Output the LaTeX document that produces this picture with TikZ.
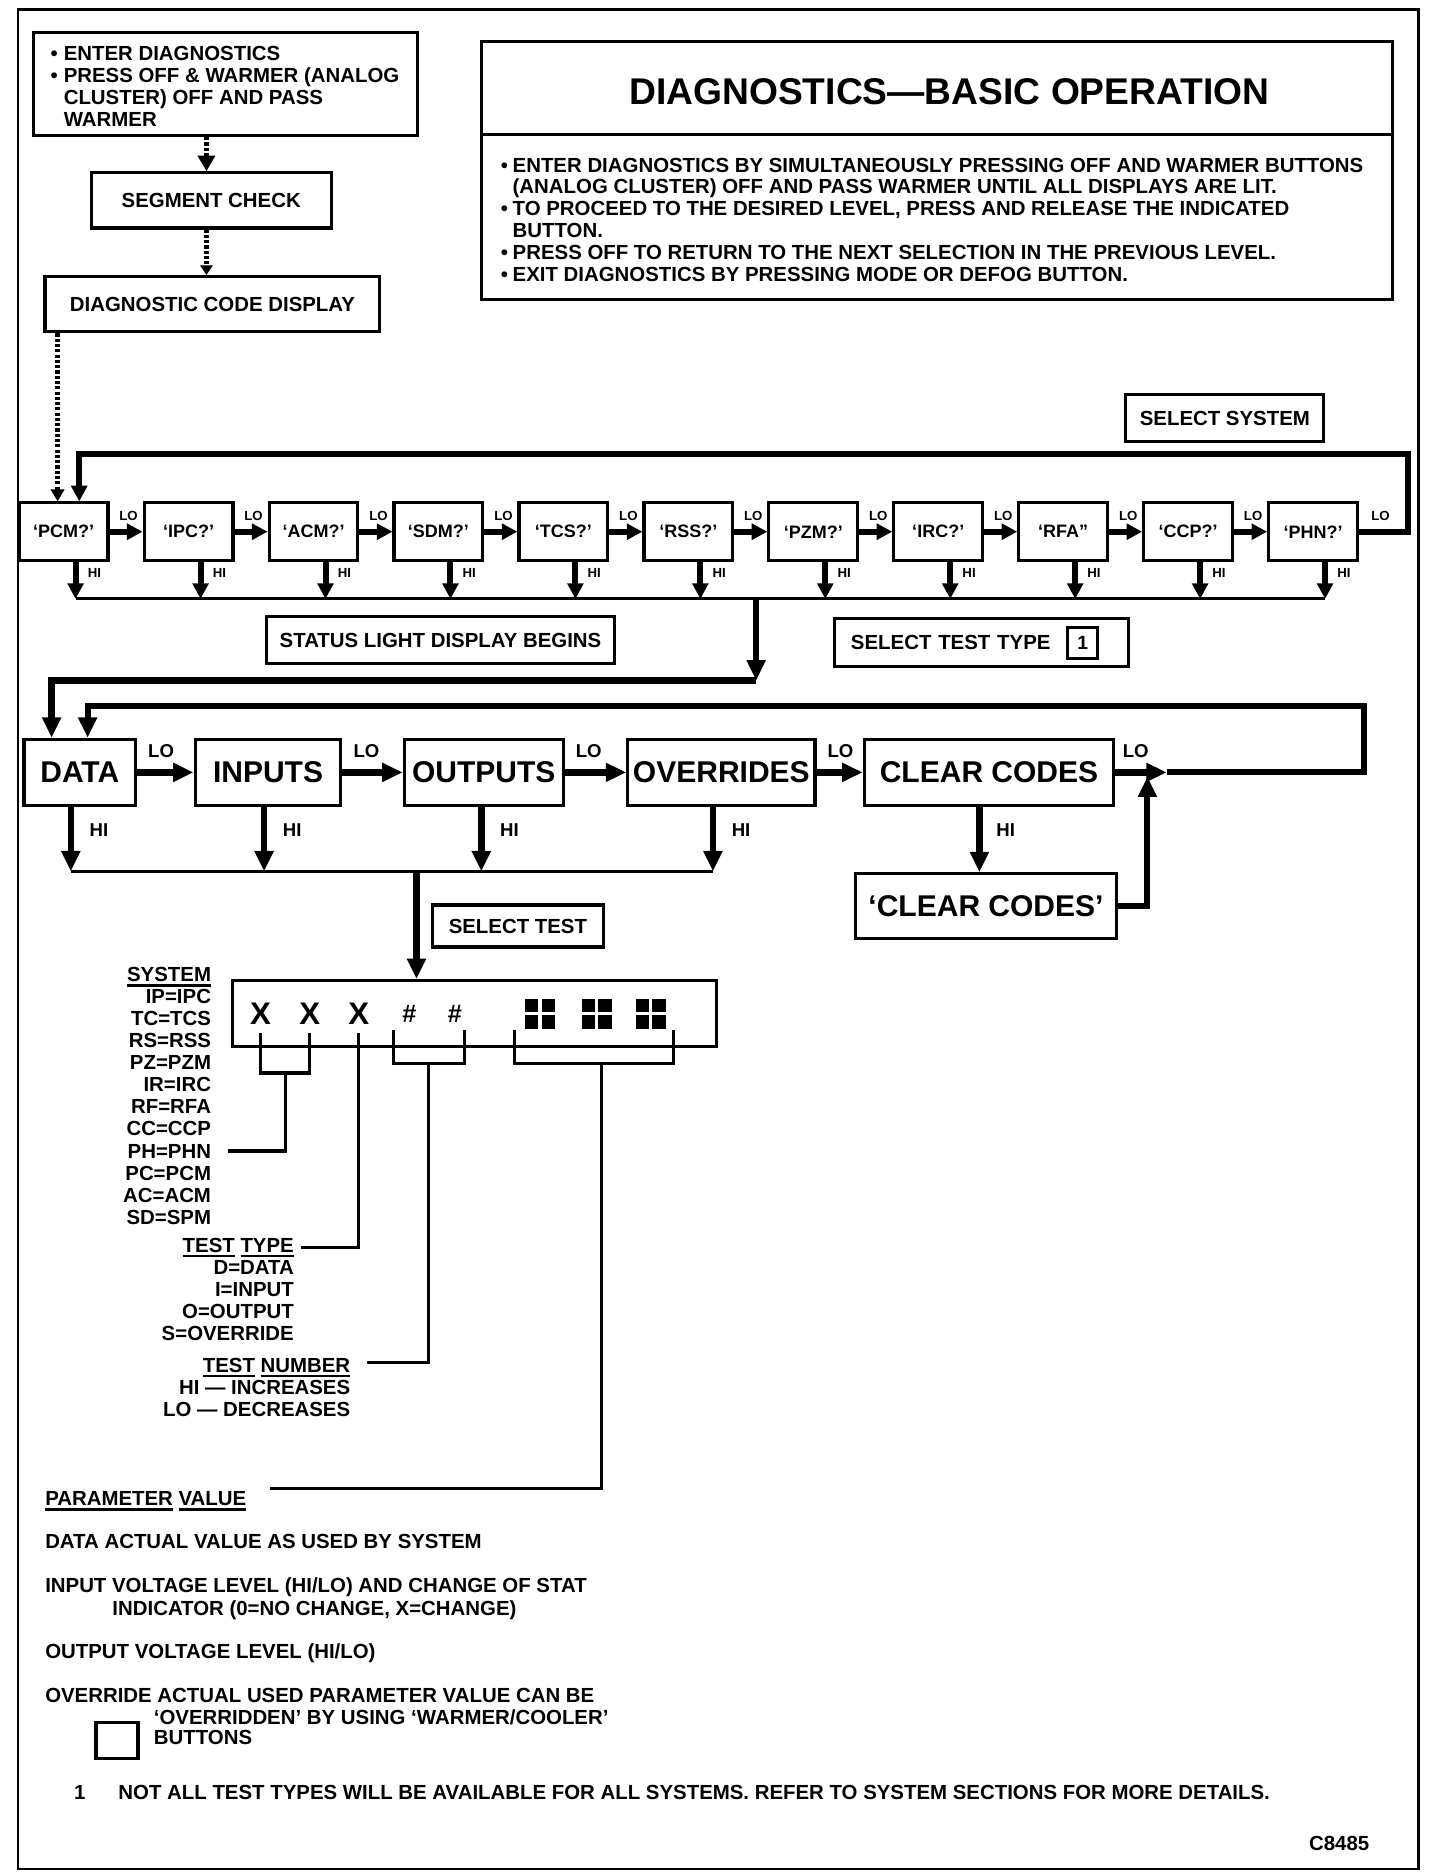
\documentclass[tikz,border=0pt]{standalone}
\usepackage{fontspec}
\setmainfont{Liberation Sans}
\usetikzlibrary{arrows.meta,calc}
\newcommand\fsz[2]{\fontsize{#1}{#2}\selectfont\bfseries}
\newcommand\undl[1]{\setbox0\hbox{#1}\rlap{\rule[-4pt]{\wd0}{2.2pt}}\box0\relax}
\begin{document}
\begin{tikzpicture}[x=1pt,y=-1pt,
  bx/.style={draw, line width=2.6pt, inner sep=0pt, font=\fsz{17}{18}},
  sbx/.style={bx, minimum width=74pt, minimum height=48pt, font=\fsz{15}{16}},
  mbx/.style={bx, minimum height=55pt, font=\fsz{25}{26}},
  sarr/.style={line width=5pt, -{Triangle[length=13pt,width=13pt]}},
  marr/.style={line width=5.5pt, -{Triangle[length=17pt,width=15pt]}},
  bline/.style={line width=2.6pt},
  dotln/.style={line width=4.5pt, dash pattern=on 2.6pt off 1.8pt},
  dotarr/.style={dotln, -{Triangle[length=13pt,width=14pt]}},
  txt/.style={inner sep=0pt, font=\fsz{17}{18.2}},
  slo/.style={inner sep=0pt, font=\fsz{11}{11}},
  mlo/.style={inner sep=0pt, font=\fsz{15.5}{16}},
]
\useasboundingbox (0,0) rectangle (1200,1563);
\draw[line width=2.2pt] (15,8) rectangle (1182,1557);

% ---------- top left chain ----------
\node[bx, minimum width=320pt, minimum height=86pt] (enter) at (188,70) {};
\node[txt, anchor=north west] (entertxt) at (42,37.8)
  {\begin{tabular}{@{}l@{\hspace{5pt}}l@{}}•&ENTER DIAGNOSTICS\\•&PRESS OFF \& WARMER (ANALOG\\&CLUSTER) OFF AND PASS\\&WARMER\end{tabular}};
\node[bx, minimum width=200pt, minimum height=46pt] (seg) at (176,167) {SEGMENT CHECK};
\node[bx, minimum width=279pt, minimum height=46pt] (diag) at (177,253.5) {DIAGNOSTIC CODE DISPLAY};
\coordinate (d1) at (172,0);
\coordinate (d2) at (48,0);
\draw[dotarr] (enter.south -| d1) -- (seg.north -| d1);
\draw[dotln, -{Triangle[length=8pt,width=10pt]}] (seg.south -| d1) -- (diag.north -| d1);

% ---------- title box ----------
\node[bx, minimum width=759pt, minimum height=78pt, anchor=north west] (title) at (400,33) {};
\node[inner sep=0pt, anchor=base, font=\fsz{31}{34}] (titletxt) at (791,86.7) {DIAGNOSTICS—BASIC OPERATION};
\node[bx, minimum width=759pt, minimum height=137pt, anchor=north west] (body) at (400,111) {};
\node[txt, anchor=north west] (bodytxt) at (417,130.4)
  {\begin{tabular}{@{}l@{\hspace{4pt}}l@{}}
  •&ENTER DIAGNOSTICS BY SIMULTANEOUSLY PRESSING OFF AND WARMER BUTTONS\\
  &(ANALOG CLUSTER) OFF AND PASS WARMER UNTIL ALL DISPLAYS ARE LIT.\\
  •&TO PROCEED TO THE DESIRED LEVEL, PRESS AND RELEASE THE INDICATED\\
  &BUTTON.\\
  •&PRESS OFF TO RETURN TO THE NEXT SELECTION IN THE PREVIOUS LEVEL.\\
  •&EXIT DIAGNOSTICS BY PRESSING MODE OR DEFOG BUTTON.
  \end{tabular}};

% ---------- select system row ----------
\node[bx, minimum width=165pt, minimum height=39pt] (selsys) at (1020.5,348.5) {SELECT SYSTEM};
\foreach \nm/\tx [count=\i from 0] in {pcm/‘PCM?’, ipc/‘IPC?’, acm/‘ACM?’, sdm/‘SDM?’, tcs/‘TCS?’, rss/‘RSS?’, pzm/‘PZM?’, irc/‘IRC?’, rfa/‘RFA”, ccp/‘CCP?’, phn/‘PHN?’}
  \node[sbx] (\nm) at ({53+104.1*\i},443) {\tx};
\foreach \a/\b in {pcm/ipc,ipc/acm,acm/sdm,sdm/tcs,tcs/rss,rss/pzm,pzm/irc,irc/rfa,rfa/ccp,ccp/phn} {
  \draw[sarr] (\a.east) -- (\b.west);
  \node[slo, anchor=base west] (lo-\a) at ($(\a.east)+(8,-9)$) {LO};
}
\coordinate (sbus) at (0,499);
\foreach \nm in {pcm,ipc,acm,sdm,tcs,rss,pzm,irc,rfa,ccp,phn} {
  \draw[sarr] ($(\nm.south)+(10,0)$) coordinate (hi-\nm) -- (hi-\nm |- sbus);
  \node[slo, anchor=base west] (hil-\nm) at ($(\nm.south)+(20,13)$) {HI};
}
\draw[bline] (hi-pcm |- sbus) -- (hi-phn |- sbus);
\coordinate (sl1) at (1173,378);
\coordinate (sl2) at (66,378);
\draw[sarr] (phn.east) -| (sl1) -- (sl2) -- (sl2 |- pcm.north);
\node[slo, anchor=base west] (lo-phn) at ($(phn.east)+(10,-9)$) {LO};
\draw[dotln, -{Triangle[length=10pt,width=11pt]}] (diag.south -| d2) -- (pcm.north -| d2);

\node[bx, minimum width=290pt, minimum height=39pt] (status) at (367,533.5) {STATUS LIGHT DISPLAY BEGINS};
\node[bx, minimum width=245pt, minimum height=40pt, text width=217pt, align=left] (stt) at (817.5,535) {SELECT TEST TYPE};
\node[bx, minimum width=25pt, minimum height=26pt, font=\fsz{16}{16}] (one) at (902,535.5) {1};

% ---------- connection to test type row ----------
\coordinate (j1) at (630,499);
\coordinate (j2) at (630,567);
\coordinate (j3) at (43,567);

% ---------- test type row ----------
\node[mbx, minimum width=93pt] (data) at (66.5,643.5) {DATA};
\node[mbx, minimum width=121.5pt] (inputs) at (223.3,643.5) {INPUTS};
\node[mbx, minimum width=132.5pt] (outputs) at (403,643.5) {OUTPUTS};
\node[mbx, minimum width=156pt] (overrides) at (601,643.5) {OVERRIDES};
\node[mbx, minimum width=208pt] (clear) at (824,643.5) {CLEAR CODES};
\node[mbx, minimum width=217pt, minimum height=54pt] (clear2) at (821.5,755) {‘CLEAR CODES’};

\draw[marr] (j1) -- (j2);
\draw[marr] (j2) -- (j3) -- (j3 |- data.north);

\foreach \a/\b in {data/inputs,inputs/outputs,outputs/overrides,overrides/clear} {
  \draw[marr] (\a.east) -- (\b.west);
  \node[mlo, anchor=base west] (lo-\a) at ($(\a.east)+(9,-12)$) {LO};
}
\coordinate (mj) at (972,643.5);
\coordinate (ml1) at (1136,588);
\coordinate (ml2) at (73,588);
\draw[marr] (clear.east) -- (mj);
\draw[marr, line width=5pt] (mj) -| (ml1) -- (ml2) -- (ml2 |- data.north);
\node[mlo, anchor=base west] (lo-clear) at ($(clear.east)+(6,-12)$) {LO};
\coordinate (uj) at (956,755);
\coordinate (ut) at (956,647);
\draw[marr, line width=5pt] (clear2.east) -- (uj) -- (ut);

\coordinate (mbus) at (0,726);
\foreach \nm/\dx in {data/-7.5, inputs/-3.3, outputs/-2, overrides/-7} {
  \draw[marr] ($(\nm.south)+(\dx,0)$) coordinate (mh-\nm) -- (mh-\nm |- mbus);
  \node[mlo, anchor=base west] (mhl-\nm) at ($(mh-\nm)+(15.5,25)$) {HI};
}
\draw[bline] (mh-data |- mbus) -- (mh-overrides |- mbus);
\draw[marr] ($(clear.south)+(-8,0)$) coordinate (mh-clear) -- (mh-clear |- clear2.north);
\node[mlo, anchor=base west] (mhl-clear) at ($(mh-clear)+(14,25)$) {HI};

\node[bx, minimum width=143pt, minimum height=35pt] (seltest) at (431.5,771.5) {SELECT TEST};

% ---------- display ----------
\node[bx, minimum width=403pt, minimum height=55pt] (disp) at (395.5,844.5) {};
\coordinate (dj) at (347,726);
\draw[marr] (dj) -- (dj |- disp.north);
\foreach \x [count=\i] in {217,258,299}
  \node[inner sep=0pt, font=\fsz{26}{26}] (x\i) at (\x,845) {X};
\foreach \x [count=\i] in {341,379}
  \node[inner sep=0pt, font=\fsz{21}{21}] (h\i) at (\x,845) {\#};
\foreach \x in {450,497,542} {
  \fill ({\x-12.5},832) rectangle ({\x-1.5},843);
  \fill ({\x+1.5},832) rectangle ({\x+12.5},843);
  \fill ({\x-12.5},846) rectangle ({\x-1.5},857);
  \fill ({\x+1.5},846) rectangle ({\x+12.5},857);
}

% ---------- legends ----------
\foreach \t [count=\i from 0] in {\undl{SYSTEM}, IP=IPC, TC=TCS, RS=RSS, PZ=PZM, IR=IRC, RF=RFA, CC=CCP, PH=PHN, PC=PCM, AC=ACM, SD=SPM}
  \node[txt, anchor=base east] (sys\i) at (176,{818+18.35*\i}) {\t};
\foreach \t [count=\i from 0] in {\undl{TEST} \undl{TYPE}, D=DATA, I=INPUT, O=OUTPUT, S=OVERRIDE}
  \node[txt, anchor=base east] (tt\i) at (245,{1043.5+18.3*\i}) {\t};
\foreach \t [count=\i from 0] in {\undl{TEST} \undl{NUMBER}, HI — INCREASES, LO — DECREASES}
  \node[txt, anchor=base east] (tn\i) at (292,{1143.5+18.3*\i}) {\t};

\coordinate (b1) at (190,959);
\coordinate (b2) at (251,1039);
\coordinate (b3) at (306,1135);
\coordinate (b4) at (225,1240);
\draw[bline] (217,861) -- (217,894) -- (258,894) -- (258,861);
\draw[bline] (238,894) |- (b1);
\draw[bline] (299,861) |- (b2);
\draw[bline] (328,858) -- (328,886) -- (387,886) -- (387,858);
\draw[bline] (357,886) |- (b3);
\draw[bline] (429,858) -- (429,886) -- (561,886) -- (561,858);
\draw[bline] (501,886) |- (b4);

% ---------- bottom text ----------
\node[txt, anchor=base west] (pv) at (37.5,1254.5) {\undl{PARAMETER} \undl{VALUE}};
\node[txt, anchor=base west] (t1) at (37.5,1290.5) {DATA ACTUAL VALUE AS USED BY SYSTEM};
\node[txt, anchor=base west] (t2) at (37.5,1327) {INPUT VOLTAGE LEVEL (HI/LO) AND CHANGE OF STAT};
\node[txt, anchor=base west] (t3) at (93.5,1346) {INDICATOR (0=NO CHANGE, X=CHANGE)};
\node[txt, anchor=base west] (t4) at (37.5,1382) {OUTPUT VOLTAGE LEVEL (HI/LO)};
\node[txt, anchor=base west] (t5) at (37.5,1418.5) {OVERRIDE ACTUAL USED PARAMETER VALUE CAN BE};
\node[txt, anchor=base west] (t6) at (128,1436.5) {‘OVERRIDDEN’ BY USING ‘WARMER/COOLER’};
\node[txt, anchor=base west] (t7) at (128,1453.5) {BUTTONS};
\node[bx, line width=2.8pt, minimum width=35pt, minimum height=30pt] (ovbox) at (97.5,1450) {};
\node[txt, anchor=base west] (fn1) at (61.5,1499) {1};
\node[txt, anchor=base west] (fn) at (98.5,1499) {NOT ALL TEST TYPES WILL BE AVAILABLE FOR ALL SYSTEMS. REFER TO SYSTEM SECTIONS FOR MORE DETAILS.};
\node[txt, anchor=base east] (code) at (1141,1542) {C8485};
\end{tikzpicture}
\end{document}
